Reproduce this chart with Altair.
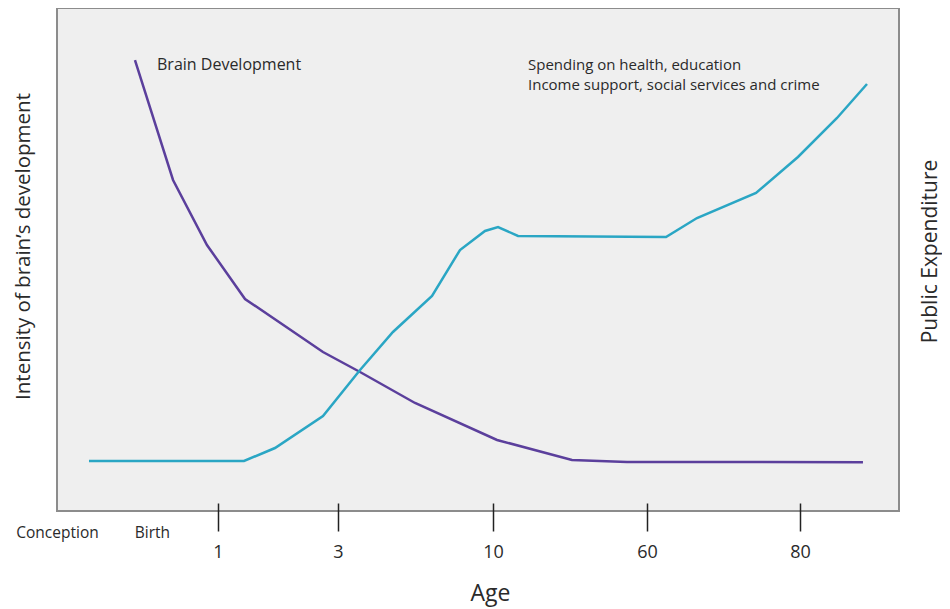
import altair as alt
import pandas as pd

# ---- data (x: position along the age axis, 0-100; y: relative level, 0-100) ----
brain_x = [9.26, 13.78, 17.81, 22.33, 31.59, 35.99, 42.52, 52.26, 61.16, 67.70, 95.72]
brain_y = [89.66, 65.81, 52.88, 42.15, 31.61, 27.63, 21.47, 14.12, 10.14, 9.74, 9.70]

spend_x = [3.80, 22.21, 25.89, 31.59, 35.99, 39.90, 44.54, 47.86, 50.83, 52.38, 54.75,
           72.33, 76.01, 83.02, 88.00, 92.64, 96.20]
spend_y = [9.94, 9.94, 12.52, 18.89, 28.03, 35.59, 42.74, 51.89, 55.67, 56.46, 54.67,
           54.47, 58.25, 63.22, 70.38, 78.13, 84.89]

tick_pos = [0, 11.28, 19.12, 33.37, 51.78, 70.07, 88.24]
tick_text = ["Conception", "Birth", "1", "3", "10", "60", "80"]

brain_label = ["Brain Development"]
brain_label_x = [11.88]
brain_label_y = [88.67]

spend_label = ["Spending on health, education\nIncome support, social services and crime"]
spend_label_x = [55.94]
spend_label_y = [88.67]

FONT = "Open Sans"
PURPLE = "#5b3f9c"
CYAN = "#2aa6c4"
TEXT = "#2a2a2a"

brain_df = pd.DataFrame({"x": brain_x, "y": brain_y})
spend_df = pd.DataFrame({"x": spend_x, "y": spend_y})
brain_lab_df = pd.DataFrame({"x": brain_label_x, "y": brain_label_y, "t": brain_label})
spend_lab_df = pd.DataFrame({"x": spend_label_x, "y": spend_label_y, "t": spend_label})

pos_js = "[" + ",".join(str(p) for p in tick_pos) + "]"
txt_js = "[" + ",".join("'" + t + "'" for t in tick_text) + "]"
label_expr = f"indexof({pos_js}, datum.value) >= 0 ? {txt_js}[indexof({pos_js}, datum.value)] : ''"

xscale = alt.Scale(domain=[0, 100], nice=False, zero=False)
yscale = alt.Scale(domain=[0, 100], nice=False, zero=False)

x_axis = alt.Axis(
    values=tick_pos,
    labelExpr=label_expr,
    domain=False,
    grid=False,
    offset=-8,
    tickSize=28,
    tickWidth=1.5,
    tickColor="#222222",
    tickOpacity={"condition": {"test": "datum.value < 15", "value": 0}, "value": 1},
    labelFont=FONT,
    labelColor=TEXT,
    labelFontSize={"condition": {"test": "datum.value < 15", "value": 15.5}, "value": 18},
    labelPadding={"condition": {"test": "datum.value < 15", "value": 1}, "value": 21},
    labelBaseline="middle",
    labelAlign="center",
    labelFlush=False,
    labelOverlap=False,
    title="Age",
    titleFont=FONT,
    titleFontSize=23,
    titleFontWeight="normal",
    titleColor=TEXT,
    titleX=433,
    titleY=90,
    titleAlign="center",
    titleBaseline="middle",
)

left_axis = alt.Axis(
    title="Intensity of brain’s development",
    labels=False, ticks=False, domain=False, grid=False,
    titleFont=FONT, titleFontSize=20.5, titleFontWeight="normal", titleColor=TEXT,
    titleAngle=270, titleX=-34, titleY=238, titleAlign="center", titleBaseline="middle",
)

right_axis = alt.Axis(
    title="Public Expenditure", orient="right",
    labels=False, ticks=False, domain=False, grid=False,
    titleFont=FONT, titleFontSize=21, titleFontWeight="normal", titleColor=TEXT,
    titleAngle=270, titleX=31, titleY=243, titleAlign="center", titleBaseline="middle",
)

brain_line = alt.Chart(brain_df).mark_line(color=PURPLE, strokeWidth=2.5).encode(
    x=alt.X("x:Q", scale=xscale, axis=x_axis),
    y=alt.Y("y:Q", scale=yscale, axis=left_axis),
)

spend_line = alt.Chart(spend_df).mark_line(color=CYAN, strokeWidth=2.5).encode(
    x=alt.X("x:Q", scale=xscale),
    y=alt.Y("y:Q", scale=yscale, axis=right_axis),
)

brain_text = alt.Chart(brain_lab_df).mark_text(
    align="left", baseline="middle", font=FONT, fontSize=16, color=TEXT
).encode(
    x=alt.X("x:Q", scale=xscale),
    y=alt.Y("y:Q", scale=yscale, axis=None),
    text="t:N",
)

spend_text = alt.Chart(spend_lab_df).mark_text(
    align="left", baseline="middle", font=FONT, fontSize=15, color=TEXT,
    lineBreak="\n", lineHeight=20,
).encode(
    x=alt.X("x:Q", scale=xscale),
    y=alt.Y("y:Q", scale=yscale, axis=None),
    text="t:N",
)

chart = alt.layer(brain_line, brain_text, spend_line, spend_text).resolve_scale(
    y="independent"
).properties(
    width=842,
    height=503,
    autosize=alt.AutoSizeParams(type="none"),
    padding={"left": 49, "top": 0, "right": 43, "bottom": 96},
    background="white",
).configure_view(
    fill="#efefef", stroke="#8c8c8c", strokeWidth=2
)

chart.save("out.html", embed_options={"renderer": "svg", "actions": False})
